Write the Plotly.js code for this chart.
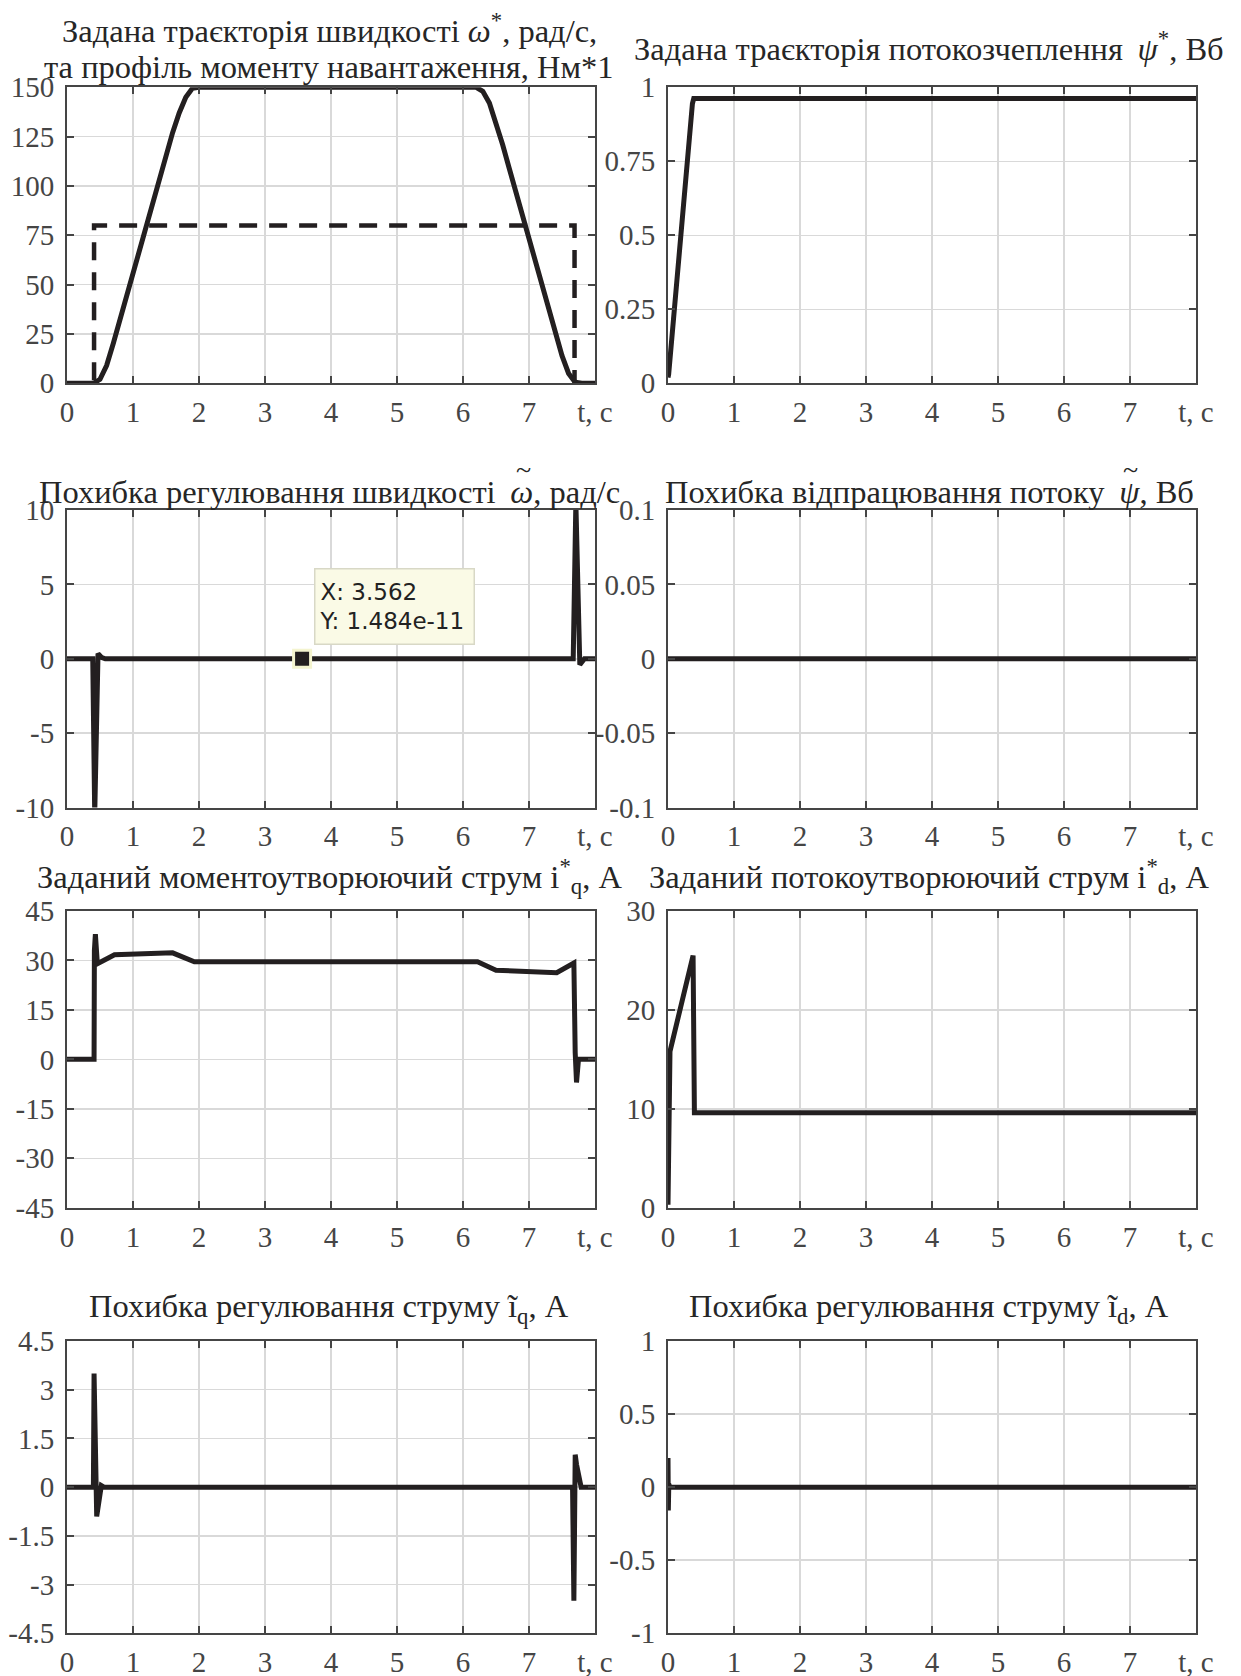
<!DOCTYPE html>
<html>
<head>
<meta charset="utf-8">
<script src="https://cdn.plot.ly/plotly-3.0.1.min.js"></script>
<style>
  html, body { margin: 0; padding: 0; background: #ffffff; }
  #chart { width: 1241px; height: 1676px; }
</style>
</head>
<body>
<div id="chart"></div>
<script>
// ---- shared time axis, s ----
const tTicks = [0, 1, 2, 3, 4, 5, 6, 7, 8];
const tTickText = ['0', '1', '2', '3', '4', '5', '6', '7', 't, c'];

// ---- speed reference ω*, rad/s ----
const tSpeed   = [0, 0.4, 0.5, 0.6, 0.7, 0.8, 0.9, 1.0, 1.1, 1.2, 1.3, 1.4, 1.5, 1.6, 1.7, 1.8, 1.9, 2.0,
                  6.2, 6.3, 6.4, 6.5, 6.6, 6.7, 6.8, 6.9, 7.0, 7.1, 7.2, 7.3, 7.4, 7.5, 7.6, 7.7, 7.8, 8.0];
const speedRef = [0, 0, 2, 9, 20, 32, 44, 56, 68, 80, 92, 104, 116, 127, 137, 145, 149.5, 150,
                  150, 148, 142, 132, 121, 109, 97, 85, 73, 61, 49, 37, 25, 14, 5, 0.5, 0, 0];

// ---- load torque profile, N·m ----
const tLoad      = [0, 0.41, 0.41, 7.69, 7.69, 8];
const loadTorque = [0, 0, 80, 80, 0, 0];

// ---- flux linkage reference ψ*, Wb ----
const tPsi   = [0, 0.01, 0.37, 0.39, 8];
const psiRef = [0.02, 0.03, 0.945, 0.962, 0.962];

// ---- speed tracking error ----
const tSpeedErr = [0, 0.39, 0.42, 0.47, 0.52, 0.58, 7.67, 7.71, 7.77, 7.84, 8];
const speedErr  = [0, 0, -10.5, 0.35, 0.1, 0, 0, 10.5, -0.4, 0, 0];

// data tip shown on the speed error panel
const datatipX = 3.562;
const datatipY = 1.484e-11;

// ---- flux tracking error ----
const tPsiErr = [0, 8];
const psiErr  = [0, 0];

// ---- torque-producing current reference iq*, A ----
const tIq   = [0, 0.40, 0.41, 0.415, 0.43, 0.46, 0.72, 1.6, 1.93, 6.22, 6.5, 7.42, 7.68, 7.70, 7.72, 7.75, 8];
const iqRef = [0, 0, 0, 33, 38, 29, 31.7, 32.3, 29.6, 29.6, 27, 26.3, 29.2, 2, -7, 0, 0];

// ---- flux-producing current reference id*, A ----
const tId   = [0, 0.03, 0.38, 0.40, 8];
const idRef = [0.3, 15.8, 25.5, 9.6, 9.6];

// ---- current errors, A ----
const tIqErr = [0, 0.40, 0.41, 0.45, 0.52, 0.56, 7.66, 7.68, 7.70, 7.72, 7.79, 8];
const iqErr  = [0, 0, 3.5, -0.9, 0.05, 0, 0, -3.5, 1.0, 0.7, 0, 0];
const tIdErr = [0, 0.005, 0.012, 0.03, 8];
const idErr  = [0.2, -0.16, 0.02, 0, 0];

// ---- y tick values per panel ----
const yTicksSpeed    = [0, 25, 50, 75, 100, 125, 150];
const yTicksPsi      = [0, 0.25, 0.5, 0.75, 1];
const yTicksSpeedErr = [-10, -5, 0, 5, 10];
const yTicksPsiErr   = [-0.1, -0.05, 0, 0.05, 0.1];
const yTicksIq       = [-45, -30, -15, 0, 15, 30, 45];
const yTicksId       = [0, 10, 20, 30];
const yTicksIqErr    = [-4.5, -3, -1.5, 0, 1.5, 3, 4.5];
const yTicksIdErr    = [-1, -0.5, 0, 0.5, 1];

// ---- titles of the error panels whose Greek symbol carries a tilde ----
const errTitleParts = {
  2: { prefix: 'Похибка регулювання швидкості \u2009', greek: 'ω', suffix: ', рад/с' },
  3: { prefix: 'Похибка відпрацювання потоку \u2009', greek: 'ψ', suffix: ', Вб' }
};

// ---- panel titles (one entry per text line) ----
const titles = [
  ['Задана траєкторія швидкості <i>ω</i><sup>*</sup>, рад/с,',
   'та профіль моменту навантаження, Нм*1'],
  ['Задана траєкторія потокозчеплення \u2009<i>ψ</i><sup>*</sup>, Вб'],
  [errTitleParts[2].prefix + '<i>' + errTitleParts[2].greek + '</i>' + errTitleParts[2].suffix],
  [errTitleParts[3].prefix + '<i>' + errTitleParts[3].greek + '</i>' + errTitleParts[3].suffix],
  ['Заданий моментоутворюючий струм i<sup>*</sup><sub>q</sub>, А'],
  ['Заданий потокоутворюючий струм i<sup>*</sup><sub>d</sub>, А'],
  ['Похибка регулювання струму i\u0303<sub>q</sub>, А'],
  ['Похибка регулювання струму i\u0303<sub>d</sub>, А']
];

// ---- page geometry (px) ----
const W = 1241, H = 1676;
const colX = [[67, 595], [668, 1196]];
const rowY = [[87.3, 383.3], [510, 807.5], [911, 1207.7], [1341, 1633.3]];
const titleLineY = [[29, 67], [47], [492], [492], [876], [876], [1308], [1308]];
const titleCenterX = [329, 929];
const TITLE_SIZE = 32.5;

const INK = '#231f20';
const AXIS = '#454545';
const SERIF = 'Liberation Serif, Times New Roman, serif';

const panelTicks = [yTicksSpeed, yTicksPsi, yTicksSpeedErr, yTicksPsiErr,
                    yTicksIq, yTicksId, yTicksIqErr, yTicksIdErr];

function textWidth(str, font) {
  const ctx = textWidth.ctx || (textWidth.ctx = document.createElement('canvas').getContext('2d'));
  ctx.font = font;
  return ctx.measureText(str).width;
}

function solid(x, y, i) {
  return { x: x, y: y, type: 'scatter', mode: 'lines',
           xaxis: i === 0 ? 'x' : 'x' + (i + 1), yaxis: i === 0 ? 'y' : 'y' + (i + 1),
           line: { color: INK, width: 5 }, hoverinfo: 'skip', showlegend: false };
}

const traces = [
  solid(tSpeed, speedRef, 0),
  Object.assign(solid(tLoad, loadTorque, 0), { line: { color: INK, width: 4.5, dash: '18px,12px' } }),
  solid(tPsi, psiRef, 1),
  solid(tSpeedErr, speedErr, 2),
  solid(tPsiErr, psiErr, 3),
  solid(tIq, iqRef, 4),
  solid(tId, idRef, 5),
  solid(tIqErr, iqErr, 6),
  solid(tIdErr, idErr, 7),
  // data tip marker on the speed error trace
  { x: [datatipX], y: [datatipY], type: 'scatter', mode: 'markers', xaxis: 'x3', yaxis: 'y3',
    marker: { symbol: 'square', size: 17, color: INK, line: { color: '#f4f4cf', width: 3 } },
    hoverinfo: 'skip', showlegend: false, cliponaxis: false }
];

const layout = {
  width: W, height: H,
  margin: { l: 0, r: 0, t: 0, b: 0 },
  paper_bgcolor: '#ffffff', plot_bgcolor: '#ffffff',
  showlegend: false, hovermode: false,
  annotations: []
};

const common = {
  showgrid: true, gridcolor: '#d9d9d9', gridwidth: 1.5,
  showline: true, linecolor: AXIS, linewidth: 2, mirror: 'ticks',
  ticks: 'inside', ticklen: 7, tickwidth: 2, tickcolor: AXIS,
  zeroline: false, fixedrange: true,
  tickfont: { family: SERIF, size: 29, color: AXIS }
};

for (let i = 0; i < 8; i++) {
  const col = i % 2, row = Math.floor(i / 2);
  const sfx = i === 0 ? '' : String(i + 1);
  const yt = panelTicks[i];
  layout['xaxis' + sfx] = Object.assign({}, common, {
    domain: [colX[col][0] / W, colX[col][1] / W],
    anchor: 'y' + sfx, range: [0, 8],
    tickmode: 'array', tickvals: tTicks, ticktext: tTickText,
    ticklabelstandoff: 2
  });
  layout['yaxis' + sfx] = Object.assign({}, common, {
    domain: [1 - rowY[row][1] / H, 1 - rowY[row][0] / H],
    anchor: 'x' + sfx, range: [yt[0], yt[yt.length - 1]],
    tickmode: 'array', tickvals: yt, ticktext: yt.map(String),
    ticklabelstandoff: 5
  });
  titles[i].forEach((line, k) => {
    layout.annotations.push({
      xref: 'paper', yref: 'paper',
      x: titleCenterX[col] / W, y: 1 - titleLineY[i][k] / H,
      xanchor: 'center', yanchor: 'middle', showarrow: false,
      text: line, align: 'center',
      font: { family: SERIF, size: TITLE_SIZE, color: '#262626' }
    });
  });

  // tilde accent over the Greek symbol of the error titles
  const parts = errTitleParts[i];
  if (parts) {
    const reg = TITLE_SIZE + 'px "Liberation Serif"';
    const ita = 'italic ' + reg;
    const wPre = textWidth(parts.prefix, reg);
    const wGr = textWidth(parts.greek, ita);
    const wSuf = textWidth(parts.suffix, reg);
    const left = titleCenterX[col] - (wPre + wGr + wSuf) / 2;
    const gx = left + wPre + wGr / 2 + 2;
    layout.annotations.push({
      xref: 'paper', yref: 'paper',
      x: gx / W, y: 1 - (titleLineY[i][0] - 23) / H,
      xanchor: 'center', yanchor: 'middle', showarrow: false,
      text: '~', font: { family: SERIF, size: 28, color: '#262626' }
    });
  }
}

// data tip box
layout.annotations.push({
  xref: 'x3', yref: 'y3', x: datatipX, y: datatipY,
  xanchor: 'left', yanchor: 'bottom', xshift: 12, yshift: 14,
  showarrow: false, align: 'left', valign: 'middle',
  width: 150, height: 66,
  text: 'X: ' + datatipX + '<br>Y: ' + datatipY.toExponential(3),
  bgcolor: '#fafae6', bordercolor: '#d8d8c6', borderwidth: 1.5, borderpad: 4,
  font: { family: 'DejaVu Sans, Arial, sans-serif', size: 23, color: '#222222' }
});

Plotly.newPlot('chart', traces, layout, { staticPlot: true, displayModeBar: false });
</script>
</body>
</html>
